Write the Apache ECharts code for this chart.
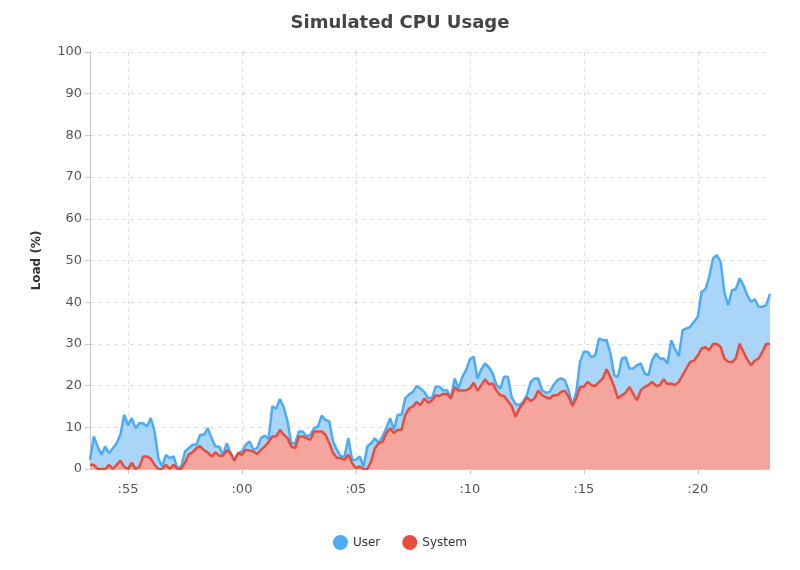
<!DOCTYPE html>
<html>
<head>
<meta charset="utf-8">
<title>Simulated CPU Usage</title>
<script src="https://cdn.jsdelivr.net/npm/echarts@6/dist/echarts.min.js"></script>
<style>
    html, body { margin: 0; padding: 0; background: #fff; }
    #cpuView { width: 800px; height: 570px; }
</style>
</head>
<body>
<div id="cpuView"></div>
<script>
    // samples every 10 seconds, from 12:53:20 to 13:23:10
    let startTime = new Date(2024, 0, 1, 12, 53, 20).getTime();
    let stepMs = 10 * 1000;

    let seriesNames = ['User', 'System'];

    let userLoad = [
        2.2, 7.8, 5.4, 3.4, 5.4, 3.8, 5, 6.2, 8.2, 13, 10.5, 12.2, 9.8, 11, 11, 10.2, 12.2, 9, 2.6, 0.6,
        3.4, 2.6, 3, 0.2, 0.6, 4.2, 5, 5.8, 5.8, 8.2, 8.2, 9.8, 7.4, 5.4, 5.4, 3.4, 6.2, 3.8, 2.2, 3.8,
        4.2, 5.8, 6.6, 4.6, 5, 7.4, 8, 7.2, 15, 14.5, 16.8, 14.8, 11.4, 6.2, 6.2, 9, 9, 7.8, 8.2, 9.8,
        10.2, 12.8, 11.8, 11.4, 6.5, 4.6, 3, 3, 7.4, 2.2, 2.2, 3, 0.6, 5.4, 6.2, 7.4, 6.2, 7.8, 9.8, 12.2,
        9.4, 13, 13, 17, 17.9, 18.5, 19.9, 19.3, 18.5, 17, 17, 19.7, 19.7, 18.9, 18.9, 17, 21.7, 19.3, 22.1, 23.7,
        26.3, 26.9, 21.7, 23.9, 25.3, 24.4, 22.9, 20.1, 19.3, 22.1, 22.1, 17.2, 15.6, 15.3, 16.1, 17.7, 20.9, 21.7, 21.7, 18.9,
        18.3, 18.5, 20.1, 21.3, 21.7, 21.3, 18.9, 15.3, 18.5, 25.7, 28.1, 28.1, 26.8, 27.3, 31.3, 30.9, 30.9, 27.7, 22.5, 22.1,
        26.5, 26.8, 24.1, 24.1, 24.9, 25.3, 22.9, 22.5, 26.1, 27.7, 26.5, 26.5, 25.3, 30.9, 28.7, 27.1, 33.3, 33.7, 34.1, 35.3,
        36.5, 42.5, 43.1, 46.1, 50.5, 51.3, 49.7, 42.3, 39.3, 42.9, 43.1, 45.7, 44.1, 41.7, 40.1, 40.7, 38.9, 38.9, 39.3, 42
    ];

    let systemLoad = [
        1, 1, 0, 0, 0, 1, 0, 1, 2, 0.5, 0, 1.5, 0, 0.5, 3, 3, 2.5, 1, 0, 0,
        1, 0, 1, 0, 0, 1.5, 3.5, 4, 5, 5.5, 4.5, 4, 3, 4, 3.2, 3.2, 4.5, 3.8, 2, 3.8,
        3.4, 4.6, 4.4, 4.2, 3.6, 4.6, 5.4, 6.5, 7.8, 7.8, 9.4, 8.2, 7.4, 5.4, 5, 7.8, 7.8, 7.4, 7, 9,
        9, 9, 8.2, 6.2, 3.8, 2.7, 2.6, 2.2, 3.4, 1.4, 0.2, 0.6, 0, 0, 1.8, 5, 6.2, 6.5, 8.6, 9.8,
        8.6, 9.4, 9.4, 13, 14.5, 15, 16.1, 15.3, 16.9, 15.9, 16.4, 17.7, 17.5, 18, 18, 16.9, 19.6, 18.8, 18.8, 18.9,
        19.3, 20.7, 18.8, 20.1, 21.5, 20.3, 20.5, 18.8, 17.7, 17.5, 16.3, 15.1, 12.5, 14.5, 15.7, 17.2, 16.3, 16.9, 18.8, 17.7,
        17.2, 16.9, 17.7, 17.7, 18.5, 18.8, 17.3, 15.1, 16.9, 19.7, 19.7, 20.9, 20.1, 19.9, 20.9, 21.7, 23.9, 22, 19.7, 16.9,
        17.7, 18.3, 19.7, 18, 16.5, 18.9, 19.7, 20.1, 20.9, 19.9, 20.1, 21.5, 20.4, 20.5, 20.1, 20.9, 22.5, 24.1, 25.7, 26,
        27.2, 28.9, 29.2, 28.5, 30, 30, 29.3, 26.5, 25.7, 25.6, 26.5, 30, 28.1, 26.3, 24.9, 26, 26.5, 28.1, 30, 30
    ];

    // one category per sample, labelled every 5 minutes
    let sampleTimes = [];
    for (let i = 0; i < userLoad.length; i++) {
        sampleTimes[i] = startTime + i * stepMs;
    }

    function isFiveMinuteMark(index) {
        let d = new Date(sampleTimes[index]);
        return d.getSeconds() === 0 && d.getMinutes() % 5 === 0;
    }

    let chartDom = document.getElementById('cpuView');
    let myChart = echarts.init(chartDom, null, {renderer: 'canvas'});

    let option = {
        animation: false,
        backgroundColor: '#fff',
        textStyle: {
            fontFamily: 'DejaVu Sans'
        },
        title: {
            text: 'Simulated CPU Usage',
            left: 'center',
            top: 9,
            textStyle: {
                fontFamily: 'DejaVu Sans',
                fontSize: 18,
                fontWeight: 'bold',
                color: '#444'
            }
        },
        legend: {
            bottom: 15,
            left: 'center',
            icon: 'circle',
            itemWidth: 15,
            itemHeight: 15,
            itemGap: 22,
            data: seriesNames,
            textStyle: {
                fontSize: 12,
                color: '#333'
            }
        },
        grid: {
            left: 90,
            right: 30,
            top: 52,
            bottom: 101
        },
        xAxis: {
            type: 'category',
            boundaryGap: false,
            data: sampleTimes,
            z: 3,
            axisLine: {lineStyle: {color: '#c8c8c8'}},
            axisTick: {
                show: true,
                length: 5,
                interval: isFiveMinuteMark,
                lineStyle: {color: '#c8c8c8'}
            },
            axisLabel: {
                margin: 14,
                fontSize: 13,
                color: '#555',
                interval: isFiveMinuteMark,
                formatter: function (value) {
                    let d = new Date(Number(value));
                    return ':' + String(d.getMinutes()).padStart(2, '0');
                }
            },
            splitLine: {
                show: true,
                interval: isFiveMinuteMark,
                lineStyle: {type: [4, 4], color: 'rgba(0, 0, 0, 0.13)'}
            }
        },
        yAxis: {
            type: 'value',
            min: 0,
            max: 100,
            interval: 10,
            z: 3,
            name: 'Load (%)',
            nameLocation: 'middle',
            nameGap: 47,
            nameTextStyle: {
                fontSize: 12,
                fontWeight: 'bold',
                color: '#333'
            },
            axisLine: {show: true, lineStyle: {color: '#c8c8c8'}},
            axisTick: {show: true, length: 5, lineStyle: {color: '#c8c8c8'}},
            axisLabel: {
                margin: 8,
                fontSize: 13,
                color: '#555'
            },
            splitLine: {
                show: true,
                lineStyle: {type: [4, 4], color: 'rgba(0, 0, 0, 0.13)'}
            }
        },
        series: [
            {
                name: 'User',
                type: 'line',
                data: userLoad,
                showSymbol: false,
                symbol: 'none',
                color: '#4dabf5',
                lineStyle: {width: 2.5, color: '#4dabf5'},
                areaStyle: {color: '#a9d5f8', opacity: 1}
            },
            {
                name: 'System',
                type: 'line',
                data: systemLoad,
                showSymbol: false,
                symbol: 'none',
                color: '#e74c3c',
                lineStyle: {width: 2.5, color: '#e74c3c'},
                areaStyle: {color: '#f4a59d', opacity: 1}
            }
        ]
    };

    myChart.setOption(option);
</script>
</body>
</html>
